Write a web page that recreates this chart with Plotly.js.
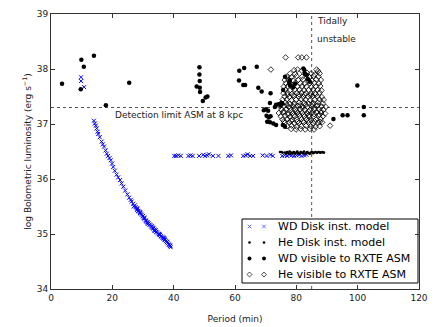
<!DOCTYPE html>
<html><head><meta charset="utf-8">
<script src="https://cdn.plot.ly/plotly-3.0.1.min.js"></script>
<style>html,body{margin:0;padding:0;background:#fff}#c{width:438px;height:327px}</style>
</head><body><div id="c"></div>
<script>
// WD Disk instability model (blue crosses)
var wdDiskX = [9.8,9.8,10.8,
 14.0,14.3,14.6,14.9,15.2,15.4,15.9,16.5,16.9,17.3,17.8,18.2,18.6,19.1,19.5,19.9,20.3,20.8,21.4,21.9,22.5,23.0,23.6,24.2,24.9,25.5,26.0,26.3,26.8,27.3,27.6,27.9,28.1,28.4,28.7,29.0,29.3,29.6,29.9,30.2,30.5,30.8,31.0,31.2,31.5,31.8,32.1,32.4,32.7,33.0,33.2,33.4,33.7,34.0,34.3,34.6,34.9,35.2,35.5,35.8,36.1,36.4,36.7,37.0,37.2,37.5,37.8,38.1,38.4,38.6,38.8,39.0,
 28.2,29.1,30.4,31.6,32.9,34.1,35.4,36.6,37.9,38.9,27.0,30.0,33.8,36.9,
 40.2,40.8,41.5,42.3,44.8,45.5,46.2,48.3,49.6,50.2,50.9,51.5,52.8,54.6,57.8,58.7,62.7,63.5,64.1,64.9,65.9,69.0,70.3,71.6,72.3,75.4,76.2,77.0,77.8,78.5,79.3,80.1,80.9,81.7,82.5,83.3];
var wdDiskY = [37.85,37.78,37.67,
 37.06,37.01,36.97,36.92,36.86,36.82,36.76,36.68,36.63,36.59,36.52,36.46,36.42,36.38,36.34,36.28,36.22,36.15,36.08,36.03,35.98,35.92,35.86,35.79,35.72,35.66,35.62,35.59,35.55,35.52,35.49,35.47,35.44,35.42,35.41,35.38,35.37,35.35,35.32,35.29,35.28,35.25,35.24,35.22,35.21,35.19,35.17,35.16,35.14,35.12,35.11,35.10,35.08,35.06,35.04,35.03,35.01,35.00,34.98,34.96,34.95,34.93,34.92,34.90,34.89,34.87,34.85,34.83,34.81,34.80,34.78,34.76,
 35.46,35.40,35.30,35.19,35.14,35.07,34.99,34.94,34.86,34.79,35.50,35.33,35.06,34.92,
 36.42,36.42,36.43,36.42,36.42,36.43,36.42,36.42,36.44,36.42,36.43,36.45,36.42,36.42,36.42,36.43,36.42,36.43,36.45,36.42,36.42,36.43,36.42,36.44,36.42,36.42,36.43,36.42,36.44,36.43,36.42,36.43,36.44,36.42,36.43,36.44];

// He Disk instability model (small black dots)
var heDiskX = [74.7,75.1,75.5,76.3,76.7,77.0,77.4,77.8,78.1,78.5,78.9,79.2,79.6,80.0,80.3,80.7,81.1,81.4,81.8,82.2,82.5,82.9,83.3,83.6,84.0,84.4,84.7,85.1,85.5,85.8,86.2,86.6,86.9,87.3,87.7,88.0,88.4,88.8,89.0];
var heDiskY = [36.49,36.49,36.48,36.48,36.46,36.49,36.47,36.50,36.46,36.48,36.47,36.49,36.46,36.48,36.50,36.47,36.46,36.49,36.48,36.47,36.50,36.46,36.48,36.49,36.47,36.46,36.48,36.49,36.47,36.48,36.49,36.48,36.48,36.49,36.48,36.48,36.49,36.48,36.48];

// WD visible to RXTE ASM (black dots)
var wdVisX = [3.6,9.9,10.7,9.7,14.0,17.9,25.5,48.4,48.4,48.5,47.5,48.5,48.6,49.5,50.4,51.0,
 61.4,63.0,67.1,61.3,62.7,63.3,67.6,68.7,71.6,71.4,73.4,74.2,74.8,75.4,69.4,70.1,70.8,70.3,71.0,71.6,71.4,70.5,73.4,75.6,
 76.3,77.7,78.0,79.0,79.6,77.9,82.6,83.0,83.7,84.4,77.9,75.7,75.2,73.0,72.5,76.3,82.3,82.8,83.4,
 92.1,95.1,96.7,99.9,102.0,102.0];
var wdVisY = [37.73,38.17,38.04,37.63,38.24,37.34,37.75,38.03,37.90,37.78,37.68,37.66,37.58,37.42,37.48,37.50,
 37.97,38.02,38.04,37.79,37.71,37.71,37.66,37.59,37.56,37.38,37.35,37.36,37.34,37.37,37.25,37.27,37.24,37.15,37.12,37.14,37.03,37.04,36.98,36.98,
 37.86,37.76,37.70,37.67,37.73,37.80,37.98,37.90,37.82,37.77,37.71,37.62,37.38,37.31,37.01,36.95,38.01,37.92,37.89,
 37.09,37.16,37.16,37.70,37.31,37.16];

// He visible to RXTE ASM (open diamonds)
var heVisX = [76.5,80.6,81.8,83.3,71.7,91.0,
 79.3,80.4,81.8,86.6,87.1,
 78.0,79.6,83.5,84.8,86.0,87.6,
 76.8,78.4,80.1,81.9,84.3,85.7,87.2,
 76.2,77.5,79.0,80.6,82.2,83.8,85.1,86.5,88.0,
 76.6,78.1,79.7,81.3,82.7,84.4,85.9,87.4,
 75.9,77.2,78.8,80.3,81.9,83.3,84.9,86.3,87.8,
 76.4,77.9,79.5,81.0,82.5,84.0,85.5,86.9,88.2,
 75.8,77.1,78.6,80.2,81.7,83.1,84.7,86.1,87.6,
 76.2,77.7,79.3,80.8,82.3,83.8,85.3,86.8,88.3,
 75.5,76.9,78.4,79.9,81.5,83.0,84.5,86.0,87.5,88.9,
 75.1,76.4,77.9,79.4,81.0,82.6,84.1,85.6,87.1,88.6,
 74.6,76.0,77.5,79.0,80.5,82.0,83.6,85.2,86.7,88.2,89.6,
 75.2,76.7,78.2,79.7,81.3,82.8,84.4,85.9,87.4,88.9,
 74.3,75.7,77.3,78.8,80.4,81.9,83.5,85.0,86.6,88.1,89.4,
 74.9,76.4,77.9,79.5,81.1,82.6,84.2,85.7,87.3,88.7,
 75.5,77.0,78.6,80.1,81.7,83.3,84.8,86.4,87.9,
 76.2,77.8,79.3,80.9,82.4,84.0,85.6,87.1,88.4,
 77.0,78.5,80.1,81.6,83.2,84.7,86.2,87.6,
 78.3,79.9,81.4,82.9,84.4,85.8,
 77.1,78.9,80.9,82.7,84.6,86.3,
 76.9,79.2,81.2,83.1,85.2,87.0,
 77.3,79.1,80.7,82.4,84.1,85.8,87.5,
 76.0,78.2,80.3,82.1,83.9,85.9,87.7,
 75.9,78.0,80.0,82.0,83.9,86.0,88.0];
var heVisY = [38.21,38.21,38.21,38.21,37.99,36.97,
 37.98,37.99,37.97,37.99,37.96,
 37.92,37.91,37.93,37.92,37.90,37.92,
 37.86,37.85,37.87,37.86,37.85,37.87,37.86,
 37.80,37.81,37.79,37.80,37.81,37.80,37.79,37.81,37.80,
 37.74,37.73,37.75,37.74,37.73,37.74,37.75,37.74,
 37.68,37.69,37.67,37.68,37.69,37.68,37.67,37.68,37.69,
 37.62,37.61,37.63,37.62,37.61,37.62,37.63,37.62,37.61,
 37.56,37.57,37.55,37.56,37.57,37.56,37.55,37.56,37.57,
 37.50,37.49,37.51,37.50,37.49,37.50,37.51,37.50,37.49,
 37.44,37.45,37.43,37.44,37.45,37.44,37.43,37.44,37.45,37.44,
 37.38,37.39,37.37,37.38,37.39,37.38,37.37,37.38,37.39,37.38,
 37.32,37.33,37.31,37.32,37.33,37.32,37.31,37.32,37.33,37.32,37.31,
 37.26,37.27,37.25,37.26,37.27,37.26,37.25,37.26,37.27,37.26,
 37.20,37.21,37.19,37.20,37.21,37.20,37.19,37.20,37.21,37.20,37.19,
 37.14,37.15,37.13,37.14,37.15,37.14,37.13,37.14,37.15,37.14,
 37.08,37.09,37.07,37.08,37.09,37.08,37.07,37.08,37.09,
 37.02,37.03,37.01,37.02,37.03,37.02,37.01,37.02,37.03,
 36.96,36.97,36.95,36.96,36.97,36.96,36.95,36.96,
 36.91,36.90,36.91,36.90,36.91,36.90,
 37.53,37.52,37.54,37.53,37.52,37.54,
 37.35,37.36,37.34,37.35,37.36,37.34,
 37.17,37.16,37.18,37.17,37.16,37.18,37.17,
 37.05,37.06,37.04,37.05,37.06,37.05,37.04,
 37.23,37.29,37.23,37.29,37.23,37.29,37.23];

var seriesNames = ['WD Disk inst. model','He Disk inst. model','WD visible to RXTE ASM','He visible to RXTE ASM'];
var xTicks = [0,20,40,60,80,100,120];
var yTicks = [34,35,36,37,38,39];
var detectionLimit = 37.3;
var tidalPeriod = 85;

var font = 'DejaVu Sans, Liberation Sans, sans-serif';
var styles = [
  {symbol: 'x-thin-open', size: 4, color: '#0000ff', line: {color: '#0000ff', width: 1}},
  {symbol: 'circle', size: 2.6, color: '#000', line: {width: 0}},
  {symbol: 'circle', size: 4.5, color: '#000', line: {width: 0}},
  {symbol: 'diamond-open', size: 4.3, color: '#000', line: {color: '#000', width: 0.8}}
];
var legendStyles = [
  {symbol: 'x-thin-open', size: 3.5, color: '#4040ff', line: {color: '#4040ff', width: 0.8}},
  {symbol: 'circle', size: 2.6, color: '#000', line: {width: 0}},
  {symbol: 'circle', size: 4, color: '#000', line: {width: 0}},
  {symbol: 'diamond-open', size: 3.8, color: '#000', line: {color: '#333', width: 0.7}}
];
var dataX = [wdDiskX, heDiskX, wdVisX, heVisX];
var dataY = [wdDiskY, heDiskY, wdVisY, heVisY];
var traces = [];
for (var i = 0; i < 4; i++) {
  traces.push({x: dataX[i], y: dataY[i], name: seriesNames[i], type: 'scatter', mode: 'markers',
    marker: styles[i], showlegend: false, hoverinfo: 'skip'});
}

// hand-made legend (matplotlib style: two sample markers per entry), in plot-area pixel units
var PW = 368, PH = 275;
var legBox = {x0: 191, x1: 367, y0: 6, y1: 70};
var legRow0 = 62.5, legRowStep = 16, legM1 = 198.5, legM2 = 213, legText = 225;
var annotations = [
  {text: 'Detection limit ASM at 8 kpc', x: 20.2, y: 37.17, xref: 'x', yref: 'y', xanchor: 'left', yanchor: 'middle',
   showarrow: false, font: {family: font, size: 9, color: '#222'}},
  {text: 'Tidally', x: 86.1, y: 38.87, xref: 'x', yref: 'y', xanchor: 'left', yanchor: 'middle', showarrow: false,
   font: {family: font, size: 9, color: '#222'}},
  {text: 'unstable', x: 86.1, y: 38.55, xref: 'x', yref: 'y', xanchor: 'left', yanchor: 'middle', showarrow: false,
   font: {family: font, size: 9, color: '#222'}}
];
for (var k = 0; k < 4; k++) {
  var ry = legRow0 - k * legRowStep;
  traces.push({x: [legM1, legM2], y: [ry, ry], xaxis: 'x2', yaxis: 'y2', type: 'scatter', mode: 'markers',
    marker: legendStyles[k], showlegend: false, hoverinfo: 'skip'});
  annotations.push({text: seriesNames[k], x: legText / PW, y: ry / PH, xref: 'paper', yref: 'paper',
    xanchor: 'left', yanchor: 'middle', showarrow: false, font: {family: font, size: 11, color: '#000'}});
}

var axisCommon = {ticks: 'inside', ticklen: 4, tickcolor: '#333', showline: true, linecolor: '#333', linewidth: 1,
  mirror: 'ticks', showgrid: false, zeroline: false, tickfont: {family: font, size: 9, color: '#222'}};
var layout = {
  width: 438, height: 327,
  margin: {l: 51, r: 19, t: 14, b: 38},
  paper_bgcolor: '#fff', plot_bgcolor: '#fff',
  font: {family: font, size: 9, color: '#000'},
  showlegend: false,
  xaxis: Object.assign({}, axisCommon, {range: [0, 120], tickvals: xTicks, ticktext: xTicks.map(String),
    title: {text: 'Period (min)', font: {family: font, size: 9, color: '#222'}, standoff: 13}}),
  yaxis: Object.assign({}, axisCommon, {range: [34, 39], tickvals: yTicks, ticktext: yTicks.map(String),
    title: {text: 'log Bolometric luminosity (erg s<sup>\u22121</sup>)', font: {family: font, size: 9, color: '#222'}, standoff: 3}}),
  xaxis2: {overlaying: 'x', range: [0, PW], visible: false, fixedrange: true},
  yaxis2: {overlaying: 'y', range: [0, PH], visible: false, fixedrange: true},
  shapes: [
    {type: 'line', xref: 'paper', x0: 0, x1: 1, yref: 'y', y0: detectionLimit, y1: detectionLimit, layer: 'below',
     line: {color: '#555', width: 1, dash: 'dot'}},
    {type: 'line', xref: 'x', x0: tidalPeriod, x1: tidalPeriod, yref: 'paper', y0: 0, y1: 1, layer: 'below',
     line: {color: '#555', width: 1, dash: 'dot'}},
    {type: 'rect', xref: 'paper', yref: 'paper', x0: legBox.x0 / PW, x1: legBox.x1 / PW, y0: legBox.y0 / PH, y1: legBox.y1 / PH,
     layer: 'below', fillcolor: '#fff', line: {color: '#000', width: 1}}
  ],
  annotations: annotations
};
Plotly.newPlot('c', traces, layout, {staticPlot: true, displayModeBar: false});
</script></body></html>
